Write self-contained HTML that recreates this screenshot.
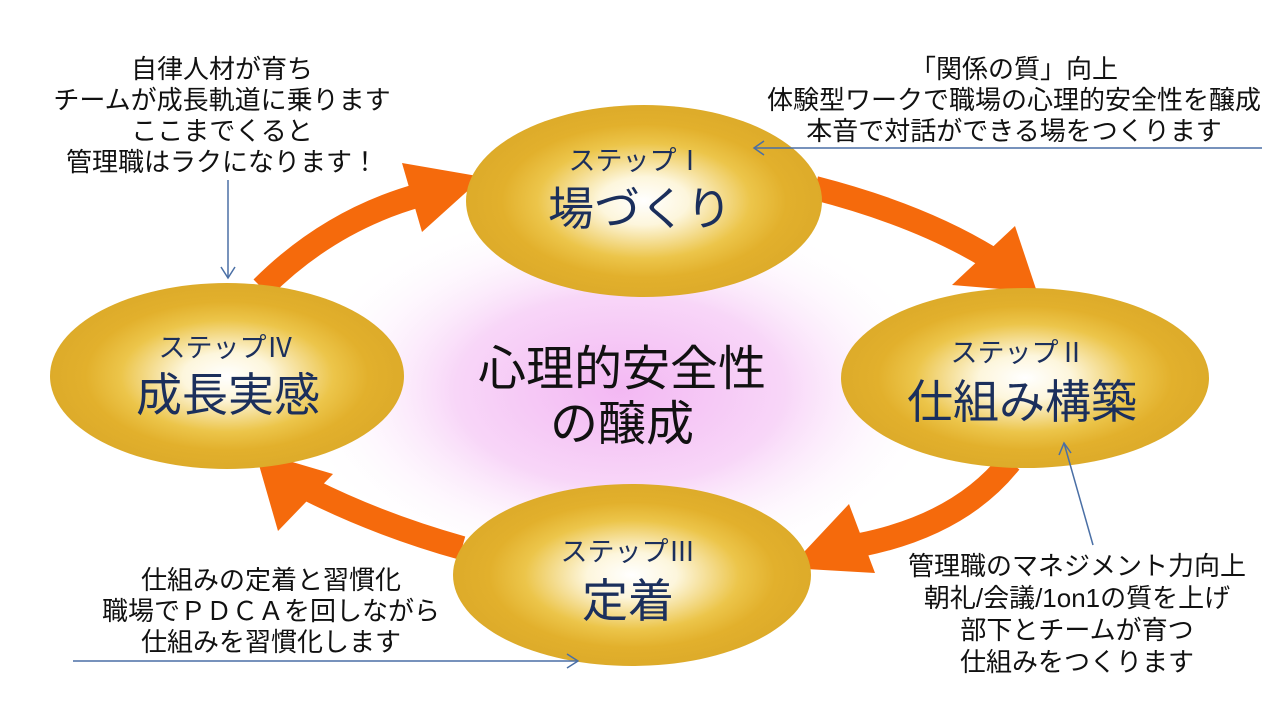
<!DOCTYPE html>
<html><head><meta charset="utf-8"><style>
html,body{margin:0;padding:0;background:#fff;}
body{width:1280px;height:720px;overflow:hidden;}
svg text{font-family:"Liberation Sans","Noto Sans CJK JP",sans-serif;}
</style></head><body>
<svg width="1280" height="720" viewBox="0 0 1280 720" xmlns="http://www.w3.org/2000/svg">
<defs>
<radialGradient id="g" cx="50%" cy="50%" r="50%">
<stop offset="0" stop-color="#ffffff"/>
<stop offset="0.25" stop-color="#fdf6dc"/>
<stop offset="0.6" stop-color="#ecc54a"/>
<stop offset="0.8" stop-color="#e2b02c"/>
<stop offset="1" stop-color="#ddab2a"/>
</radialGradient>
<radialGradient id="p" cx="50%" cy="50%" r="50%">
<stop offset="0" stop-color="#f3b8f3"/>
<stop offset="0.5" stop-color="#f8d6f8"/>
<stop offset="1" stop-color="#ffffff" stop-opacity="0"/>
</radialGradient>
</defs>
<rect width="1280" height="720" fill="#fff"/>
<ellipse cx="620" cy="390" rx="330" ry="190" fill="url(#p)"/>

<g fill="none" stroke="#f56a0c" stroke-width="24">
<path d="M815 188 Q 920 215 990 258"/>
<path d="M1010 462 Q 960 525 860 545"/>
<path d="M462 548 Q 380 525 310 490"/>
<path d="M262 288 Q 330 220 420 195"/>
</g>
<g fill="#f56a0c">
<polygon points="952,285 1015,226 1037,292"/>
<polygon points="849,504 875,573 789,568"/>
<polygon points="255,451 333,474 278,531"/>
<polygon points="402,163 422,232 483,177"/>
</g>

<ellipse cx="644" cy="201" rx="178" ry="96" fill="url(#g)"/>
<ellipse cx="1025" cy="378" rx="184" ry="90" fill="url(#g)"/>
<ellipse cx="632" cy="575" rx="179" ry="91" fill="url(#g)"/>
<ellipse cx="227" cy="376" rx="177" ry="93" fill="url(#g)"/>

<g fill="#1b2f5c" text-anchor="middle">
<text x="636" y="170" font-size="27">ステップⅠ</text>
<text x="640" y="225" font-size="46">場づくり</text>
<text x="1018" y="362" font-size="27">ステップⅡ</text>
<text x="1022" y="418" font-size="46">仕組み構築</text>
<text x="628" y="561" font-size="27">ステップⅢ</text>
<text x="628" y="617" font-size="46">定着</text>
<text x="226" y="357" font-size="27">ステップⅣ</text>
<text x="228" y="411" font-size="46">成長実感</text>
</g>
<g fill="#111" text-anchor="middle" font-size="48">
<text x="622" y="385">心理的安全性</text>
<text x="622" y="440">の醸成</text>
</g>

<g fill="#111" text-anchor="middle" font-size="26">
<text x="222" y="78">自律人材が育ち</text>
<text x="222" y="109">チームが成長軌道に乗ります</text>
<text x="222" y="140">ここまでくると</text>
<text x="222" y="171">管理職はラクになります！</text>
<text x="1014" y="78">「関係の質」向上</text>
<text x="1014" y="109">体験型ワークで職場の心理的安全性を醸成</text>
<text x="1014" y="140">本音で対話ができる場をつくります</text>
<text x="271" y="589">仕組みの定着と習慣化</text>
<text x="271" y="620">職場でＰＤＣＡを回しながら</text>
<text x="271" y="651">仕組みを習慣化します</text>
<text x="1077" y="575">管理職のマネジメント力向上</text>
<text x="1077" y="607">朝礼/会議/1on1の質を上げ</text>
<text x="1077" y="639">部下とチームが育つ</text>
<text x="1077" y="671">仕組みをつくります</text>
</g>

<g stroke="#4a6fa5" stroke-width="1.5" fill="none">
<line x1="1262" y1="148" x2="754" y2="148"/>
<polyline points="764,141 754,148 764,155"/>
<line x1="228" y1="180" x2="228" y2="278"/>
<polyline points="221,267 228,278 235,267"/>
<line x1="73" y1="661" x2="578" y2="661"/>
<polyline points="567,654 578,661 567,668"/>
<line x1="1093" y1="545" x2="1064" y2="443"/>
<polyline points="1059,455 1064,443 1071,453"/>
</g>
</svg>
</body></html>
